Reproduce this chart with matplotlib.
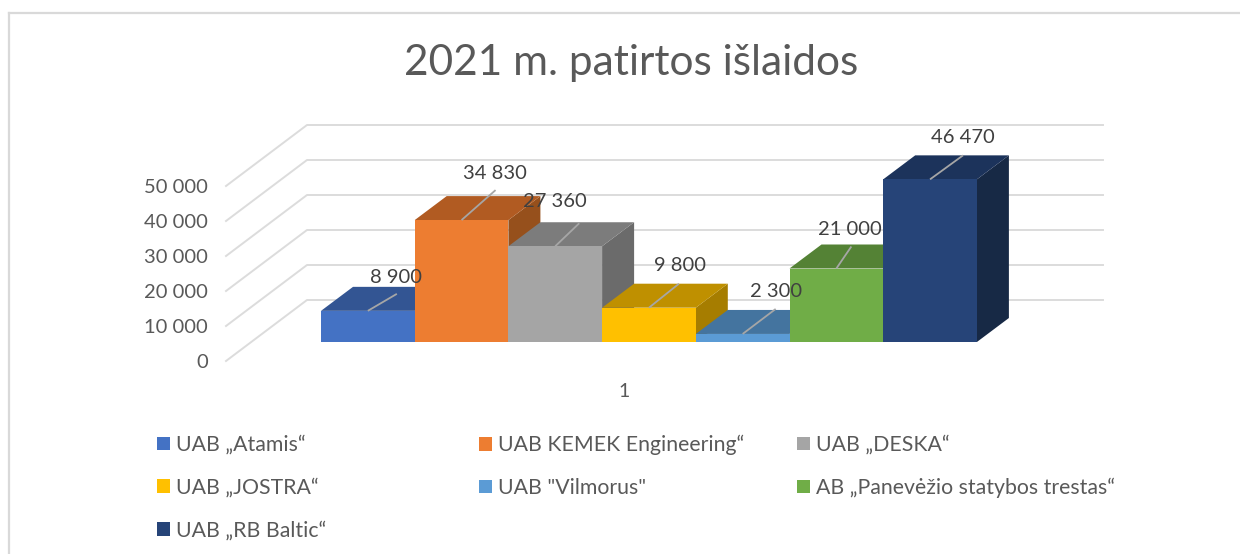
import matplotlib
matplotlib.use("Agg")
import matplotlib.pyplot as plt
import numpy as np
from matplotlib.patches import Polygon, Patch
from matplotlib.lines import Line2D

# ---------- data ----------
title = "2021 m. patirtos išlaidos"
companies = ["UAB „Atamis“", "UAB KEMEK Engineering“", "UAB „DESKA“", "UAB „JOSTRA“",
             'UAB "Vilmorus"', "AB „Panevėžio statybos trestas“", "UAB „RB Baltic“"]
values = [8900, 34830, 27360, 9800, 2300, 21000, 46470]
axis_ticks = [0, 10000, 20000, 30000, 40000, 50000]
category_label = "1"

# ---------- styles ----------
front = ["#4472C4", "#ED7D31", "#A5A5A5", "#FFC000", "#5B9BD5", "#70AD47", "#264478"]
top = ["#335593", "#B15B22", "#7C7C7C", "#BF9000", "#44749F", "#548235", "#1C335B"]
side = ["#2A4A82", "#96501C", "#6B6B6B", "#A67D00", "#3B6488", "#497130", "#172945"]
label_off = [(28, 33), (33, 47), (0, 45), (31, 42), (33, 42), (14, 39), (33, 42)]
leader_off = [(29, 17), (34, 30), (24, 23), (30, 24), (33, 25), (15, 22), (33, 24)]

FONT = "Lato"
plt.rcParams["font.family"] = [FONT, "DejaVu Sans"]
W, H = 1240, 554
fig = plt.figure(figsize=(W / 100, H / 100), dpi=100, facecolor="white")

# axes frame = front-left floor corner to right end of back wall
L, R, T, B = 226, 1103, 125, 361
ax = fig.add_axes([L / W, 1 - B / H, (R - L) / W, (B - T) / H], facecolor="none")
px_x, px_v = 93.7, 0.0035          # pixels per category / per value unit
bar0, base = 321, 342              # pixel of first bar's left edge and of bars' base
ax.set_xlim((L - bar0) / px_x, (R - bar0) / px_x)
ax.set_ylim((base - B) / px_v, (base - T) / px_v)
for s in ax.spines.values():
    s.set_visible(False)

floor = (base - B) / px_v          # value level of the front floor edge
wall_dx, wall_dy = 81 / px_x, 61 / px_v
bar_dx, bar_dy = 32 / px_x, 24 / px_v
x0 = ax.get_xlim()[0]
x1 = ax.get_xlim()[1]

# walls / gridlines
for t in axis_ticks:
    ax.plot([x0, x0 + wall_dx, x1], [floor + t, floor + t + wall_dy, floor + t + wall_dy],
            color="#DCDCDC", lw=1.4, clip_on=False, zorder=1)

# ticks
ax.set_yticks([floor + t for t in axis_ticks])
ax.set_yticklabels([f"{t:,}".replace(",", " ") for t in axis_ticks])
ax.set_xticks([(x0 + x1 - wall_dx) / 2])
ax.set_xticklabels([category_label])
ax.tick_params(axis="y", length=0, pad=13, labelsize=14.5, labelcolor="#595959")
ax.tick_params(axis="x", length=0, pad=16, labelsize=14, labelcolor="#595959")

# bars: sides and tops from left to right (a bar's top hides its neighbour's side), fronts last
for i, v in enumerate(values):
    ax.add_patch(Polygon([(i + 1, 0), (i + 1, v), (i + 1 + bar_dx, v + bar_dy), (i + 1 + bar_dx, bar_dy)],
                         fc=side[i], ec="none", clip_on=False, zorder=2 + i * 0.01))
    ax.add_patch(Polygon([(i, v), (i + 1, v), (i + 1 + bar_dx, v + bar_dy), (i + bar_dx, v + bar_dy)],
                         fc=top[i], ec="none", clip_on=False, zorder=2 + i * 0.01))
ax.bar(np.arange(len(values)) + 0.5, values, width=1.0, color=front, clip_on=False, zorder=3)

# data labels with leader lines
for i, v in enumerate(values):
    cx = i + 0.5
    ax.plot([cx, cx + leader_off[i][0] / px_x], [v, v + leader_off[i][1] / px_v],
            color="#A6A6A6", lw=1.3, clip_on=False, zorder=4, solid_capstyle="butt")
    ax.text(cx + label_off[i][0] / px_x, v + label_off[i][1] / px_v,
            f"{v:,}".replace(",", " "), ha="center", va="center",
            fontsize=14.5, color="#404040", zorder=5)

# title
fig.text(631 / W, 1 - 63 / H, title, ha="center", va="center", fontsize=30.5, color="#595959")

# legend: one block per column
cols = [([0, 3, 6], 157), ([1, 4], 479), ([2, 5], 797)]
for idx, xp in cols:
    h = [Patch(fc=front[k], ec="none") for k in idx]
    fig.legend(h, [companies[k] for k in idx], loc="upper left",
               bbox_to_anchor=(xp / W, 1 - 435 / H), bbox_transform=fig.transFigure,
               frameon=False, borderpad=0, borderaxespad=0, handlelength=0.61, handleheight=0.61,
               handletextpad=0.28, labelspacing=1.07, fontsize=15.3, labelcolor="#595959")

# chart frame
fig.add_artist(Line2D([9 / W, 9 / W], [0, 1 - 13 / H], color="#D9D9D9", lw=1.6))
fig.add_artist(Line2D([9 / W, 1], [1 - 13 / H, 1 - 13 / H], color="#D9D9D9", lw=1.6))

fig.savefig("out.png", dpi=100, facecolor="white")
